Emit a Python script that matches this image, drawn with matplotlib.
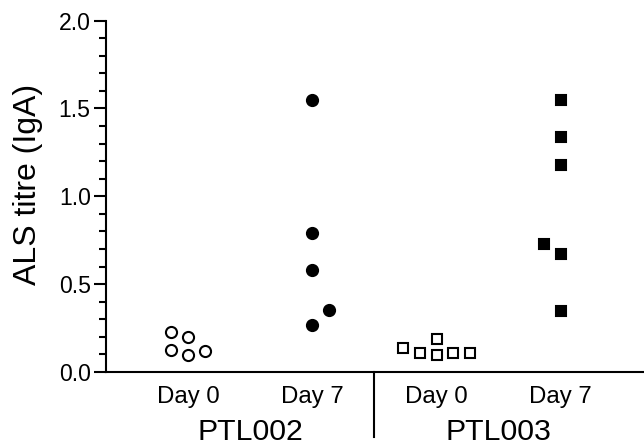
import matplotlib
matplotlib.use("Agg")
import matplotlib.pyplot as plt
import matplotlib.transforms as mtransforms
from matplotlib.ticker import MultipleLocator

plt.rcParams["font.family"] = ["Liberation Sans", "DejaVu Sans"]

# ALS titre (IgA) per group
groups = ["PTL002", "PTL003"]
days = ["Day 0", "Day 7"]
ptl002_day0 = [0.227, 0.200, 0.126, 0.097, 0.121]
ptl002_day7 = [1.550, 0.793, 0.583, 0.354, 0.265]
ptl003_day0 = [0.135, 0.108, 0.187, 0.097, 0.108, 0.108]
ptl003_day7 = [1.547, 1.335, 1.177, 0.730, 0.672, 0.345]

# horizontal jitter slot of each point (scatter-dot layout)
ptl002_day0_slot = [-1, 0, -1, 0, 1]
ptl002_day7_slot = [0, 0, 0, 1, 0]
ptl003_day0_slot = [-2, -1, 0, 0, 1, 2]
ptl003_day7_slot = [0, 0, 0, -1, 0, 0]

series = [
    (ptl002_day0, ptl002_day0_slot, "o", "white"),
    (ptl002_day7, ptl002_day7_slot, "o", "black"),
    (ptl003_day0, ptl003_day0_slot, "s", "white"),
    (ptl003_day7, ptl003_day7_slot, "s", "black"),
]
jitter = 0.133

fig = plt.figure(figsize=(6.44, 4.46), dpi=100)
ax = fig.add_axes([0.1646, 0.166, 0.8354, 0.7877])

for i, (vals, slots, marker, face) in enumerate(series):
    xs = [i + 1 + s * jitter for s in slots]
    ax.plot(xs, vals, linestyle="none", marker=marker, markersize=8 if marker == "o" else 7.6,
            markerfacecolor=face, markeredgecolor="black", markeredgewidth=1.5, clip_on=False)

ax.set_xlim(0.34, 4.67)
ax.set_ylim(0, 2.0)
ax.yaxis.set_major_locator(MultipleLocator(0.5))
ax.yaxis.set_minor_locator(MultipleLocator(0.1))
ax.yaxis.set_major_formatter(matplotlib.ticker.FormatStrFormatter("%.1f"))
ax.tick_params(axis="y", which="major", length=9, width=1.5, labelsize=16.6, pad=2)
ax.tick_params(axis="y", which="minor", length=5, width=1.5)
ax.set_xticks([])
for side in ["top", "right"]:
    ax.spines[side].set_visible(False)
for side in ["left", "bottom"]:
    ax.spines[side].set_linewidth(1.5)

ax.set_ylabel("ALS titre (IgA)", fontsize=23, labelpad=8)
ax.yaxis.set_label_coords(-0.118, 0.535)

trans = mtransforms.blended_transform_factory(ax.transData, ax.transAxes)
for i in range(4):
    ax.text(i + 1, -0.071, days[i % 2], transform=trans, ha="center", va="center", fontsize=17.3)
for j, name in enumerate(groups):
    ax.text(1.5 + 2 * j, -0.172, name, transform=trans, ha="center", va="center", fontsize=21.8)
ax.plot([2.5, 2.5], [0, -0.185], transform=trans, color="black", linewidth=1.5, clip_on=False)

fig.savefig("out.png", dpi=100)
